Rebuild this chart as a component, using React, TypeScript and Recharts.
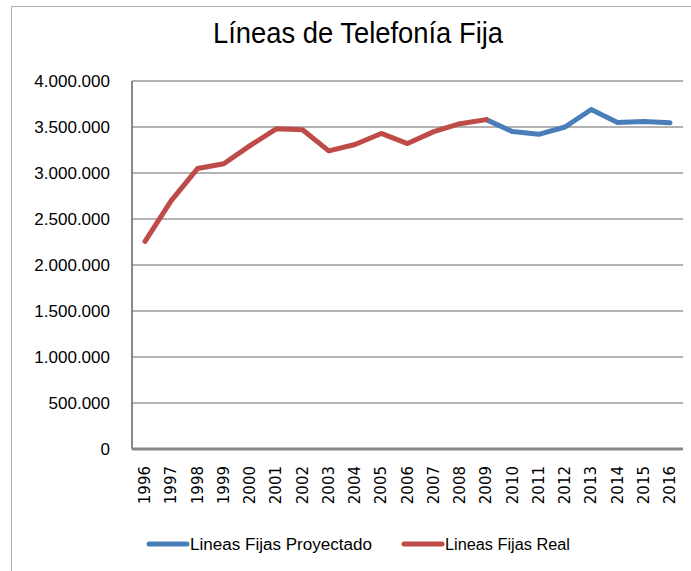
import React from 'react';
import { LineChart, Line, XAxis, YAxis, CartesianGrid } from 'recharts';

const years = [
  '1996', '1997', '1998', '1999', '2000', '2001', '2002', '2003', '2004', '2005', '2006',
  '2007', '2008', '2009', '2010', '2011', '2012', '2013', '2014', '2015', '2016',
];

// valores reales (1996-2009)
const real = [
  2256000, 2700000, 3048000, 3100000, 3297000, 3480000, 3470000, 3240000, 3310000,
  3430000, 3320000, 3450000, 3536000, 3580000, null, null, null, null, null, null, null,
];

// proyección (2009-2016)
const proyectado = [
  null, null, null, null, null, null, null, null, null, null, null, null, null,
  3580000, 3450000, 3420000, 3500000, 3690000, 3550000, 3560000, 3545000,
];

const yTicks = [0, 500000, 1000000, 1500000, 2000000, 2500000, 3000000, 3500000, 4000000];

const BLUE = '#4A7EBB';
const RED = '#BE4B48';
const SANS = '"Liberation Sans", Arial, sans-serif';

const data = years.map((year, i) => ({
  year,
  proyectado: proyectado[i],
  real: real[i],
}));

const fmt = (v: number) => (v === 0 ? '0' : v.toLocaleString('de-DE'));

function YearTick({ x, payload }: any) {
  const ax = x + 5;
  const ay = 466;
  return (
    <text
      x={ax}
      y={ay}
      transform={`rotate(-90, ${ax}, ${ay})`}
      textAnchor="end"
      fontFamily="DejaVu Sans"
      fontSize={15}
      fill="#000"
    >
      {payload.value}
    </text>
  );
}

// title + legend drawn in an overlay, squeezed to mimic the narrow font
const legendItems = [
  { name: 'Lineas Fijas Proyectado', color: BLUE, x: 147, len: 182 },
  { name: 'Lineas Fijas Real', color: RED, x: 402, len: 125 },
];

export default function App() {
  return (
    <div style={{ position: 'absolute', left: 0, top: 0, width: 691, height: 571, background: '#fff' }}>
      <div
        style={{
          position: 'absolute',
          left: 11,
          top: 6,
          right: 0,
          bottom: 0,
          borderTop: '1.5px solid #b0b0b0',
          borderLeft: '1.5px solid #b0b0b0',
        }}
      />
      <LineChart
        width={691}
        height={571}
        data={data}
        margin={{ top: 81, right: 8, bottom: 62, left: 0 }}
        style={{ position: 'absolute', left: 0, top: 0 }}
      >
        <CartesianGrid vertical={false} stroke="#999" strokeWidth={1.5} />
        <XAxis
          dataKey="year"
          height={60}
          interval={0}
          padding={{ left: 13, right: 13 }}
          tickLine={false}
          tick={<YearTick />}
          axisLine={{ stroke: '#888', strokeWidth: 3 }}
        />
        <YAxis
          width={132}
          domain={[0, 4000000]}
          ticks={yTicks}
          tickFormatter={fmt}
          tickLine={false}
          tickSize={0}
          tickMargin={22}
          axisLine={{ stroke: '#888', strokeWidth: 2 }}
          tick={{ fill: '#000', fontSize: 17, fontFamily: SANS }}
        />
        <Line
          dataKey="proyectado"
          name="Lineas Fijas Proyectado"
          stroke={BLUE}
          strokeWidth={5}
          dot={false}
          strokeLinecap="round"
          strokeLinejoin="round"
          isAnimationActive={false}
        />
        <Line
          dataKey="real"
          name="Lineas Fijas Real"
          stroke={RED}
          strokeWidth={5}
          dot={false}
          strokeLinecap="round"
          strokeLinejoin="round"
          isAnimationActive={false}
        />
      </LineChart>
      <svg width={691} height={571} style={{ position: 'absolute', left: 0, top: 0, pointerEvents: 'none' }}>
        <text
          x={213}
          y={43}
          fontFamily={SANS}
          fontSize={29}
          textLength={290}
          lengthAdjust="spacingAndGlyphs"
          fill="#000"
        >
          Líneas de Telefonía Fija
        </text>
        {legendItems.map((it) => (
          <g key={it.name}>
            <line x1={it.x + 2} y1={544} x2={it.x + 40} y2={544} stroke={it.color} strokeWidth={5} strokeLinecap="round" />
            <text
              x={it.x + 43}
              y={550}
              fontFamily={SANS}
              fontSize={16}
              textLength={it.len}
              lengthAdjust="spacingAndGlyphs"
              fill="#000"
            >
              {it.name}
            </text>
          </g>
        ))}
      </svg>
    </div>
  );
}
